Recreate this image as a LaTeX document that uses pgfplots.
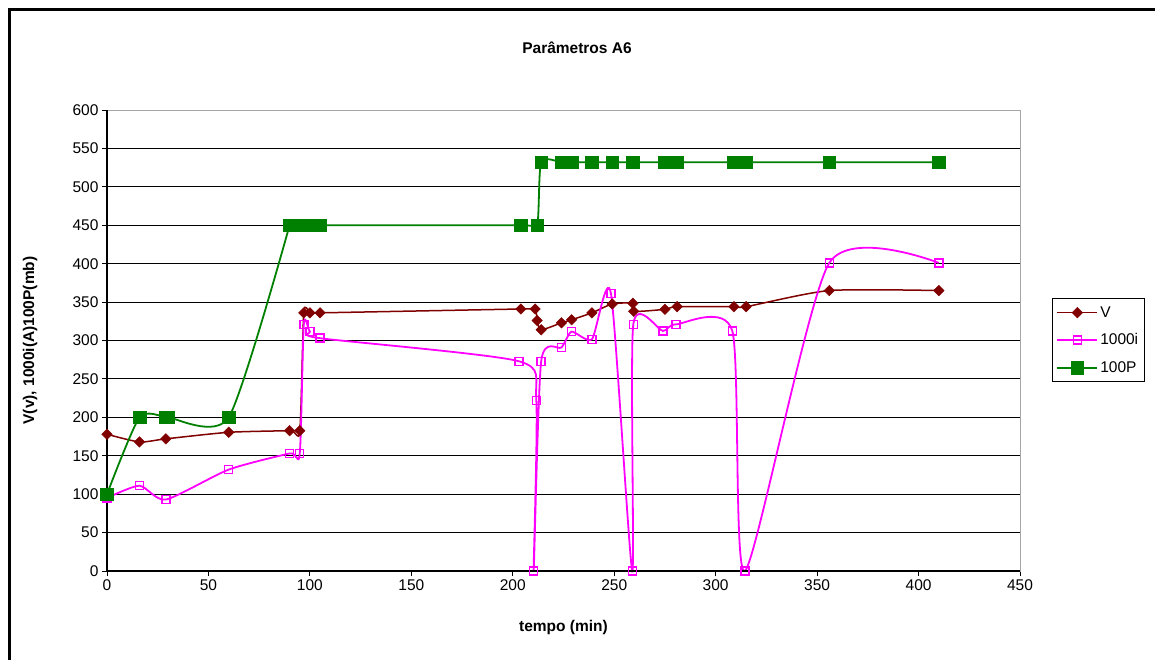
\documentclass[border=0pt]{standalone}
\usepackage{pgfplots}
\pgfplotsset{compat=1.18}
\usepackage{fontspec}
\setmainfont{Liberation Sans}
\definecolor{vred}{RGB}{128,0,0}
\definecolor{pmag}{RGB}{255,0,255}
\definecolor{pgreen}{RGB}{0,128,0}
\pgfplotstableread{
t v
0 178
16 168
29 172
60 180.5
90 182.6
95 182.6
97 336
100 336
105 336
204 341
211 341
212 326
214 314
224 323
229 327
239 336
249 347.5
259.2 348.4
259.6 338
275 340.6
281 344
309 344
315 344
356 365
410 365
}\tabV
\pgfplotstableread{
t v
0 95
16 111
29 93
60 132
90 153
95 153
97 321
100 311.5
105 303
203 273
211.6 222
210.3 0
214 273
224 291
229 311.5
239 301.6
248.4 361
258.9 0
259.4 321
274 312.4
280.4 321
308.2 312.4
314.4 0
356 401
410 401
}\tabI
\pgfplotstableread{
t v
0 100
16 200
29 200
30 200
60 200
90 450
95 450
97 450
100 450
105 450
204 450
212 450
214 532
224 532
229 532
239 532
249 532
259 532
275 532
281 532
309 532
315 532
356 532
410 532
}\tabP
\begin{document}
\begin{tikzpicture}[x=1pt,y=1pt]
\useasboundingbox (0,0) rectangle (1155,659);
\draw[line width=3pt] (9.5,-5) -- (9.5,649.5) -- (1160,649.5);
\node[font=\bfseries\fontsize{15.5}{18}\selectfont] at (577,611) {Parâmetros A6};
\node[font=\bfseries\fontsize{15.5}{18}\selectfont] at (563.5,32) {tempo (min)};
\node[font=\bfseries\fontsize{15.5}{18}\selectfont, rotate=90] at (30,318.5) {V(v), 1000i(A)100P(mb)};
\begin{axis}[
  at={(107pt,88pt)}, anchor=south west,
  scale only axis, width=913pt, height=461pt,
  xmin=0, xmax=450, ymin=0, ymax=600,
  xtick={0,50,...,450}, ytick={0,50,...,600},
  ymajorgrids, grid style={black, line width=1pt},
  axis line style={gray!70, line width=1pt},
  xtick pos=left, ytick pos=left, tick align=outside,
  major tick length=5pt,
  tick style={black, line width=1pt},
  /pgf/number format/assume math mode=true,
  ticklabel style={font=\fontsize{15.5}{18}\selectfont},
  clip=false,
  legend style={at={(1.035,0.592)}, anchor=north west, draw=black, line width=1pt,
    font=\fontsize{15.5}{18}\selectfont, row sep=11pt, inner xsep=4pt, inner ysep=6pt},
  legend cell align=left,
  legend image code/.code={
    \draw[#1, mark=none] (0pt,0pt) -- (40pt,0pt);
    \draw[#1] plot coordinates {(20pt,0pt)};
  },
  every axis plot/.append style={smooth, tension=0.4},
]
\addplot[vred, line width=1.5pt, mark=square*, mark size=3.7pt,
  mark options={rotate=45, solid, fill=vred, line width=0.5pt}] table[x=t,y=v] {\tabV};
\addlegendentry{V}
\addplot[pmag, line width=1.8pt, mark=square, mark size=4pt,
  mark options={solid, line width=1.4pt}] table[x=t,y=v] {\tabI};
\addlegendentry{1000i}
\addplot[pgreen, line width=1.8pt, mark=square*, mark size=6.3pt,
  mark options={solid, fill=pgreen, line width=0.5pt}] table[x=t,y=v, skip coords between index={6}{24}] {\tabP};
\addlegendentry{100P}
\addplot[pgreen, line width=1.8pt, mark=square*, mark size=6.3pt, forget plot,
  mark options={solid, fill=pgreen, line width=0.5pt}] table[x=t,y=v, skip coords between index={0}{5}] {\tabP};
\draw[black, line width=1.5pt] (rel axis cs:0,1) -- (rel axis cs:0,0) -- (rel axis cs:1,0);
\end{axis}
\end{tikzpicture}
\end{document}
